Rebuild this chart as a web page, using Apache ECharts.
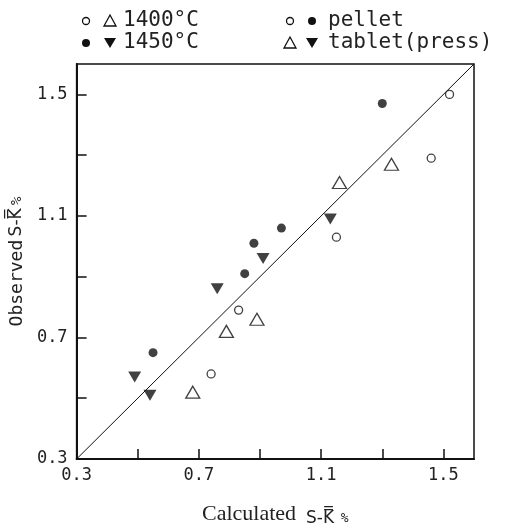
<!DOCTYPE html>
<html>
<head>
<meta charset="UTF-8">
<title>Observed vs calculated S-K</title>
<script src="https://cdn.jsdelivr.net/npm/echarts@6/dist/echarts.min.js"></script>
<style>html,body{margin:0;padding:0;background:#fff;}</style>
</head>
<body>
<div id="main" style="width:526px;height:532px;"></div>
<script>
// axis ticks and labels
var tickValues = [0.3, 0.5, 0.7, 0.9, 1.1, 1.3, 1.5];
var labelValues = [0.3, 0.7, 1.1, 1.5];

// [calculated, observed]
var pellet1400 = [[1.52, 1.50], [1.46, 1.29], [1.15, 1.03], [0.83, 0.79], [0.74, 0.58]];
var pellet1450 = [[1.30, 1.47], [0.97, 1.06], [0.88, 1.01], [0.85, 0.91], [0.55, 0.65]];
var tablet1400 = [[1.33, 1.27], [1.16, 1.21], [0.89, 0.76], [0.79, 0.72], [0.68, 0.52]];
var tablet1450 = [[1.13, 1.09], [0.91, 0.96], [0.76, 0.86], [0.49, 0.57], [0.54, 0.51]];
var equalLine = [[0.3, 0.3], [1.6, 1.6]];

var ink = '#111';
var mono = '"DejaVu Sans Mono", "Liberation Mono", monospace';
var markFont = '"DejaVu Sans", "Noto Sans", sans-serif';

function axisCommon() {
  return {
    type: 'value',
    min: 0.3,
    max: 1.6,
    axisLine: { show: true, onZero: false, lineStyle: { color: ink, width: 2 } },
    axisTick: { show: true, inside: true, length: 10, customValues: tickValues, lineStyle: { color: ink, width: 1.5 } },
    axisLabel: {
      customValues: labelValues,
      formatter: function (v) { return v.toFixed(1); },
      fontFamily: mono, fontSize: 17, color: '#222', margin: 8
    },
    splitLine: { show: false },
    nameLocation: 'middle'
  };
}

var xAxis = axisCommon();
xAxis.name = '{a|Calculated}   {b|S-K\u033F}  {c|%}';
xAxis.nameGap = 43;
xAxis.nameTextStyle = {
  rich: {
    a: { fontFamily: '"Liberation Serif", serif', fontSize: 22, color: '#222' },
    b: { fontFamily: markFont, fontSize: 17, color: '#222', padding: [8, 0, 0, 0] },
    c: { fontFamily: mono, fontSize: 13, color: '#222', padding: [8, 0, 0, 0] }
  }
};

var yAxis = axisCommon();
yAxis.name = '{a|Observed} {b|S-K\u033F} {c|%}';
yAxis.nameGap = 39;
yAxis.axisLabel.margin = 9;
yAxis.nameTextStyle = {
  rich: {
    a: { fontFamily: mono, fontSize: 18, color: '#222' },
    b: { fontFamily: markFont, fontSize: 17, color: '#222' },
    c: { fontFamily: mono, fontSize: 14, color: '#222' }
  }
};

var legendFont = '21px ' + mono;
var openStyle = { fill: '#fff', stroke: ink, lineWidth: 1.3 };
var fillStyle = { fill: ink };

var chart = echarts.init(document.getElementById('main'));
chart.setOption({
  backgroundColor: '#fff',
  animation: false,
  grid: { left: 75, right: 52, top: 64, bottom: 72, show: true, borderColor: ink, borderWidth: 1.5 },
  xAxis: xAxis,
  yAxis: yAxis,
  graphic: [
    { type: 'circle', shape: { cx: 86, cy: 21, r: 3.5 }, style: openStyle },
    { type: 'polygon', shape: { points: [[110, 15], [116, 26], [104, 26]] }, style: openStyle },
    { type: 'text', x: 123, y: 21, style: { text: '1400°C', font: legendFont, fill: '#222', verticalAlign: 'middle' } },
    { type: 'circle', shape: { cx: 86, cy: 43, r: 4 }, style: fillStyle },
    { type: 'polygon', shape: { points: [[104, 38], [116, 38], [110, 48]] }, style: fillStyle },
    { type: 'text', x: 123, y: 43, style: { text: '1450°C', font: legendFont, fill: '#222', verticalAlign: 'middle' } },
    { type: 'circle', shape: { cx: 290, cy: 21, r: 3.5 }, style: openStyle },
    { type: 'circle', shape: { cx: 312, cy: 21, r: 4 }, style: fillStyle },
    { type: 'text', x: 328, y: 21, style: { text: 'pellet', font: legendFont, fill: '#222', verticalAlign: 'middle' } },
    { type: 'polygon', shape: { points: [[290, 37], [296, 48], [284, 48]] }, style: openStyle },
    { type: 'polygon', shape: { points: [[306, 38], [318, 38], [312, 48]] }, style: fillStyle },
    { type: 'text', x: 328, y: 43, style: { text: 'tablet(press)', font: legendFont, fill: '#222', verticalAlign: 'middle' } }
  ],
  series: [
    {
      type: 'line', data: equalLine, symbol: 'none', silent: true, z: 1,
      lineStyle: { color: ink, width: 1 }
    },
    {
      name: '1400°C pellet', type: 'scatter', data: pellet1400, symbol: 'circle', symbolSize: 8,
      itemStyle: { color: '#fff', borderColor: ink, borderWidth: 1.3 }
    },
    {
      name: '1450°C pellet', type: 'scatter', data: pellet1450, symbol: 'circle', symbolSize: 9,
      itemStyle: { color: ink }
    },
    {
      name: '1400°C tablet', type: 'scatter', data: tablet1400, symbol: 'triangle', symbolSize: [14, 12],
      itemStyle: { color: '#fff', borderColor: ink, borderWidth: 1.3 }
    },
    {
      name: '1450°C tablet', type: 'scatter', data: tablet1450, symbol: 'triangle', symbolRotate: 180,
      symbolSize: [13, 11], itemStyle: { color: ink }
    }
  ]
});
</script>
</body>
</html>
